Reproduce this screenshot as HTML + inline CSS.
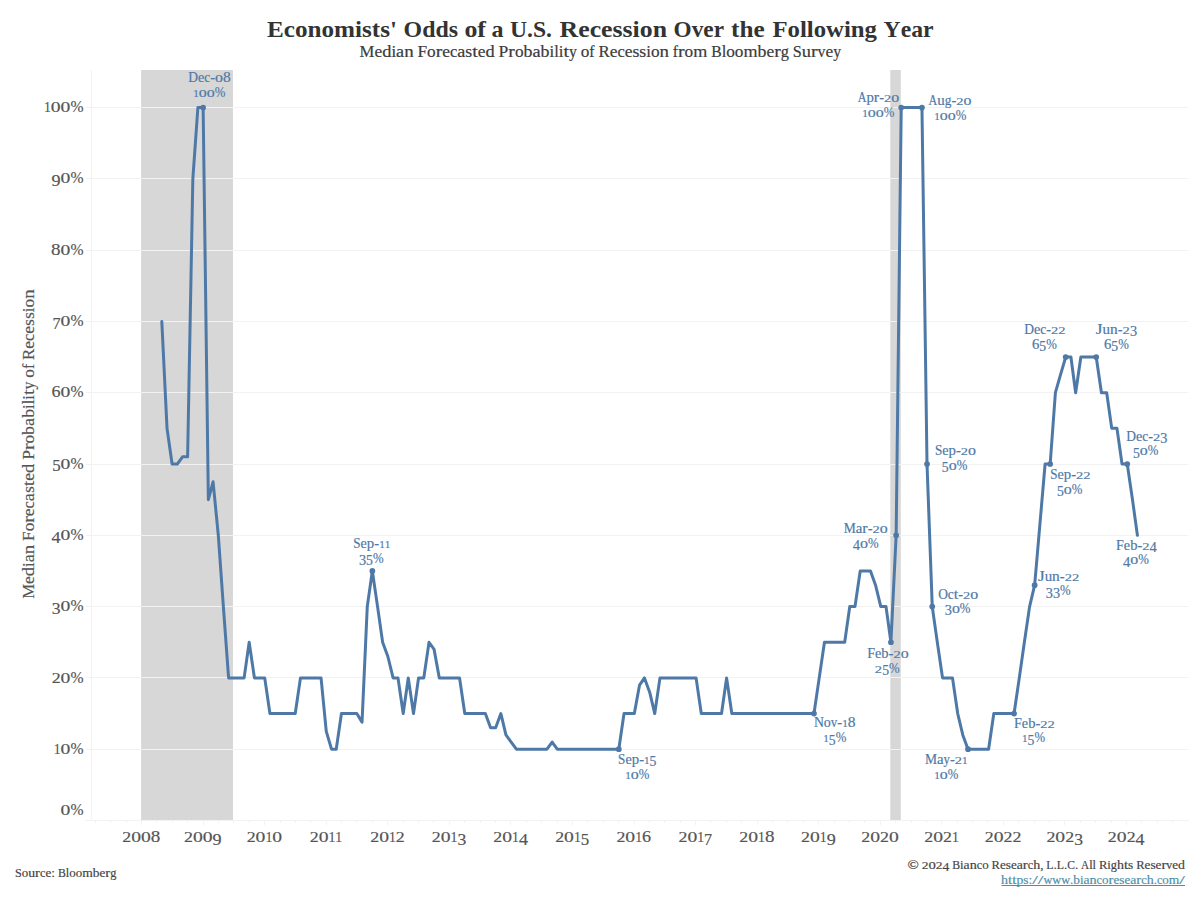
<!DOCTYPE html>
<html><head><meta charset="utf-8"><title>Economists' Odds of a U.S. Recession</title>
<style>
html,body{margin:0;padding:0;background:#fff;}
body{width:1200px;height:900px;overflow:hidden;font-family:"Liberation Serif",serif;}
svg{display:block;position:absolute;left:0;top:0;}
text{font-family:"Liberation Serif",serif;}
</style></head><body>
<svg width="1200" height="900" viewBox="0 0 1200 900">
<rect x="0" y="0" width="1200" height="900" fill="#ffffff"/>
<rect x="141.1" y="70" width="91.90" height="750" fill="#d7d7d7"/>
<rect x="890.3" y="70" width="10.5" height="750" fill="#d7d7d7"/>
<line x1="86" x2="1188" y1="749.5" y2="749.5" stroke="#f2f2f2" stroke-width="1"/>
<line x1="86" x2="1188" y1="677.5" y2="677.5" stroke="#f2f2f2" stroke-width="1"/>
<line x1="86" x2="1188" y1="606.5" y2="606.5" stroke="#f2f2f2" stroke-width="1"/>
<line x1="86" x2="1188" y1="535.5" y2="535.5" stroke="#f2f2f2" stroke-width="1"/>
<line x1="86" x2="1188" y1="464.5" y2="464.5" stroke="#f2f2f2" stroke-width="1"/>
<line x1="86" x2="1188" y1="392.5" y2="392.5" stroke="#f2f2f2" stroke-width="1"/>
<line x1="86" x2="1188" y1="321.5" y2="321.5" stroke="#f2f2f2" stroke-width="1"/>
<line x1="86" x2="1188" y1="250.5" y2="250.5" stroke="#f2f2f2" stroke-width="1"/>
<line x1="86" x2="1188" y1="178.5" y2="178.5" stroke="#f2f2f2" stroke-width="1"/>
<line x1="86" x2="1188" y1="107.5" y2="107.5" stroke="#f2f2f2" stroke-width="1"/>
<line x1="91.5" x2="91.5" y1="70" y2="820.5" stroke="#f2f2f2" stroke-width="1"/>
<line x1="85.5" x2="1189" y1="820.5" y2="820.5" stroke="#f2f2f2" stroke-width="1"/>
<line x1="95.5" x2="95.5" y1="821" y2="823" stroke="#f2f2f2" stroke-width="1"/>
<line x1="110.5" x2="110.5" y1="821" y2="823" stroke="#f2f2f2" stroke-width="1"/>
<line x1="126.5" x2="126.5" y1="821" y2="823" stroke="#f2f2f2" stroke-width="1"/>
<line x1="141.5" x2="141.5" y1="821" y2="825" stroke="#f2f2f2" stroke-width="1"/>
<line x1="156.5" x2="156.5" y1="821" y2="823" stroke="#f2f2f2" stroke-width="1"/>
<line x1="172.5" x2="172.5" y1="821" y2="823" stroke="#f2f2f2" stroke-width="1"/>
<line x1="187.5" x2="187.5" y1="821" y2="823" stroke="#f2f2f2" stroke-width="1"/>
<line x1="203.5" x2="203.5" y1="821" y2="825" stroke="#f2f2f2" stroke-width="1"/>
<line x1="218.5" x2="218.5" y1="821" y2="823" stroke="#f2f2f2" stroke-width="1"/>
<line x1="233.5" x2="233.5" y1="821" y2="823" stroke="#f2f2f2" stroke-width="1"/>
<line x1="249.5" x2="249.5" y1="821" y2="823" stroke="#f2f2f2" stroke-width="1"/>
<line x1="264.5" x2="264.5" y1="821" y2="825" stroke="#f2f2f2" stroke-width="1"/>
<line x1="280.5" x2="280.5" y1="821" y2="823" stroke="#f2f2f2" stroke-width="1"/>
<line x1="295.5" x2="295.5" y1="821" y2="823" stroke="#f2f2f2" stroke-width="1"/>
<line x1="310.5" x2="310.5" y1="821" y2="823" stroke="#f2f2f2" stroke-width="1"/>
<line x1="326.5" x2="326.5" y1="821" y2="825" stroke="#f2f2f2" stroke-width="1"/>
<line x1="341.5" x2="341.5" y1="821" y2="823" stroke="#f2f2f2" stroke-width="1"/>
<line x1="356.5" x2="356.5" y1="821" y2="823" stroke="#f2f2f2" stroke-width="1"/>
<line x1="372.5" x2="372.5" y1="821" y2="823" stroke="#f2f2f2" stroke-width="1"/>
<line x1="387.5" x2="387.5" y1="821" y2="825" stroke="#f2f2f2" stroke-width="1"/>
<line x1="403.5" x2="403.5" y1="821" y2="823" stroke="#f2f2f2" stroke-width="1"/>
<line x1="418.5" x2="418.5" y1="821" y2="823" stroke="#f2f2f2" stroke-width="1"/>
<line x1="433.5" x2="433.5" y1="821" y2="823" stroke="#f2f2f2" stroke-width="1"/>
<line x1="449.5" x2="449.5" y1="821" y2="825" stroke="#f2f2f2" stroke-width="1"/>
<line x1="464.5" x2="464.5" y1="821" y2="823" stroke="#f2f2f2" stroke-width="1"/>
<line x1="480.5" x2="480.5" y1="821" y2="823" stroke="#f2f2f2" stroke-width="1"/>
<line x1="495.5" x2="495.5" y1="821" y2="823" stroke="#f2f2f2" stroke-width="1"/>
<line x1="510.5" x2="510.5" y1="821" y2="825" stroke="#f2f2f2" stroke-width="1"/>
<line x1="526.5" x2="526.5" y1="821" y2="823" stroke="#f2f2f2" stroke-width="1"/>
<line x1="541.5" x2="541.5" y1="821" y2="823" stroke="#f2f2f2" stroke-width="1"/>
<line x1="557.5" x2="557.5" y1="821" y2="823" stroke="#f2f2f2" stroke-width="1"/>
<line x1="572.5" x2="572.5" y1="821" y2="825" stroke="#f2f2f2" stroke-width="1"/>
<line x1="587.5" x2="587.5" y1="821" y2="823" stroke="#f2f2f2" stroke-width="1"/>
<line x1="603.5" x2="603.5" y1="821" y2="823" stroke="#f2f2f2" stroke-width="1"/>
<line x1="618.5" x2="618.5" y1="821" y2="823" stroke="#f2f2f2" stroke-width="1"/>
<line x1="634.5" x2="634.5" y1="821" y2="825" stroke="#f2f2f2" stroke-width="1"/>
<line x1="649.5" x2="649.5" y1="821" y2="823" stroke="#f2f2f2" stroke-width="1"/>
<line x1="664.5" x2="664.5" y1="821" y2="823" stroke="#f2f2f2" stroke-width="1"/>
<line x1="680.5" x2="680.5" y1="821" y2="823" stroke="#f2f2f2" stroke-width="1"/>
<line x1="695.5" x2="695.5" y1="821" y2="825" stroke="#f2f2f2" stroke-width="1"/>
<line x1="710.5" x2="710.5" y1="821" y2="823" stroke="#f2f2f2" stroke-width="1"/>
<line x1="726.5" x2="726.5" y1="821" y2="823" stroke="#f2f2f2" stroke-width="1"/>
<line x1="741.5" x2="741.5" y1="821" y2="823" stroke="#f2f2f2" stroke-width="1"/>
<line x1="757.5" x2="757.5" y1="821" y2="825" stroke="#f2f2f2" stroke-width="1"/>
<line x1="772.5" x2="772.5" y1="821" y2="823" stroke="#f2f2f2" stroke-width="1"/>
<line x1="787.5" x2="787.5" y1="821" y2="823" stroke="#f2f2f2" stroke-width="1"/>
<line x1="803.5" x2="803.5" y1="821" y2="823" stroke="#f2f2f2" stroke-width="1"/>
<line x1="818.5" x2="818.5" y1="821" y2="825" stroke="#f2f2f2" stroke-width="1"/>
<line x1="834.5" x2="834.5" y1="821" y2="823" stroke="#f2f2f2" stroke-width="1"/>
<line x1="849.5" x2="849.5" y1="821" y2="823" stroke="#f2f2f2" stroke-width="1"/>
<line x1="864.5" x2="864.5" y1="821" y2="823" stroke="#f2f2f2" stroke-width="1"/>
<line x1="880.5" x2="880.5" y1="821" y2="825" stroke="#f2f2f2" stroke-width="1"/>
<line x1="895.5" x2="895.5" y1="821" y2="823" stroke="#f2f2f2" stroke-width="1"/>
<line x1="911.5" x2="911.5" y1="821" y2="823" stroke="#f2f2f2" stroke-width="1"/>
<line x1="926.5" x2="926.5" y1="821" y2="823" stroke="#f2f2f2" stroke-width="1"/>
<line x1="941.5" x2="941.5" y1="821" y2="825" stroke="#f2f2f2" stroke-width="1"/>
<line x1="957.5" x2="957.5" y1="821" y2="823" stroke="#f2f2f2" stroke-width="1"/>
<line x1="972.5" x2="972.5" y1="821" y2="823" stroke="#f2f2f2" stroke-width="1"/>
<line x1="987.5" x2="987.5" y1="821" y2="823" stroke="#f2f2f2" stroke-width="1"/>
<line x1="1003.5" x2="1003.5" y1="821" y2="825" stroke="#f2f2f2" stroke-width="1"/>
<line x1="1018.5" x2="1018.5" y1="821" y2="823" stroke="#f2f2f2" stroke-width="1"/>
<line x1="1034.5" x2="1034.5" y1="821" y2="823" stroke="#f2f2f2" stroke-width="1"/>
<line x1="1049.5" x2="1049.5" y1="821" y2="823" stroke="#f2f2f2" stroke-width="1"/>
<line x1="1064.5" x2="1064.5" y1="821" y2="825" stroke="#f2f2f2" stroke-width="1"/>
<line x1="1080.5" x2="1080.5" y1="821" y2="823" stroke="#f2f2f2" stroke-width="1"/>
<line x1="1095.5" x2="1095.5" y1="821" y2="823" stroke="#f2f2f2" stroke-width="1"/>
<line x1="1111.5" x2="1111.5" y1="821" y2="823" stroke="#f2f2f2" stroke-width="1"/>
<line x1="1126.5" x2="1126.5" y1="821" y2="825" stroke="#f2f2f2" stroke-width="1"/>
<line x1="1141.5" x2="1141.5" y1="821" y2="823" stroke="#f2f2f2" stroke-width="1"/>
<line x1="1157.5" x2="1157.5" y1="821" y2="823" stroke="#f2f2f2" stroke-width="1"/>
<line x1="1172.5" x2="1172.5" y1="821" y2="823" stroke="#f2f2f2" stroke-width="1"/>
<g aria-label="0%" font-size="16.77" fill="#555555" stroke="#555555" stroke-width="0.18"><text transform="translate(60.60,814.60) scale(1.172,0.810)">0</text><text transform="translate(70.43,814.60) scale(0.936,1.000)">%</text></g>
<g aria-label="10%" font-size="16.77" fill="#555555" stroke="#555555" stroke-width="0.18"><text transform="translate(53.74,753.80) scale(0.819,0.810)">1</text><text transform="translate(60.60,753.80) scale(1.172,0.810)">0</text><text transform="translate(70.43,753.80) scale(0.936,1.000)">%</text></g>
<g aria-label="20%" font-size="16.77" fill="#555555" stroke="#555555" stroke-width="0.18"><text transform="translate(51.66,682.50) scale(1.067,0.810)">2</text><text transform="translate(60.60,682.50) scale(1.172,0.810)">0</text><text transform="translate(70.43,682.50) scale(0.936,1.000)">%</text></g>
<g aria-label="30%" font-size="16.77" fill="#555555" stroke="#555555" stroke-width="0.18"><text transform="translate(51.79,614.00) scale(1.052,1.050)">3</text><text transform="translate(60.60,611.20) scale(1.172,0.810)">0</text><text transform="translate(70.43,611.20) scale(0.936,1.000)">%</text></g>
<g aria-label="40%" font-size="16.77" fill="#555555" stroke="#555555" stroke-width="0.18"><text transform="translate(51.56,542.70) scale(1.078,1.050)">4</text><text transform="translate(60.60,539.90) scale(1.172,0.810)">0</text><text transform="translate(70.43,539.90) scale(0.936,1.000)">%</text></g>
<g aria-label="50%" font-size="16.77" fill="#555555" stroke="#555555" stroke-width="0.18"><text transform="translate(52.16,471.40) scale(1.008,1.050)">5</text><text transform="translate(60.60,468.60) scale(1.172,0.810)">0</text><text transform="translate(70.43,468.60) scale(0.936,1.000)">%</text></g>
<g aria-label="60%" font-size="16.77" fill="#555555" stroke="#555555" stroke-width="0.18"><text transform="translate(51.55,397.30) scale(1.080,1.020)">6</text><text transform="translate(60.60,397.30) scale(1.172,0.810)">0</text><text transform="translate(70.43,397.30) scale(0.936,1.000)">%</text></g>
<g aria-label="70%" font-size="16.77" fill="#555555" stroke="#555555" stroke-width="0.18"><text transform="translate(52.57,328.80) scale(0.958,1.050)">7</text><text transform="translate(60.60,326.00) scale(1.172,0.810)">0</text><text transform="translate(70.43,326.00) scale(0.936,1.000)">%</text></g>
<g aria-label="80%" font-size="16.77" fill="#555555" stroke="#555555" stroke-width="0.18"><text transform="translate(51.07,254.70) scale(1.137,1.020)">8</text><text transform="translate(60.60,254.70) scale(1.172,0.810)">0</text><text transform="translate(70.43,254.70) scale(0.936,1.000)">%</text></g>
<g aria-label="90%" font-size="16.77" fill="#555555" stroke="#555555" stroke-width="0.18"><text transform="translate(51.55,186.20) scale(1.080,1.050)">9</text><text transform="translate(60.60,183.40) scale(1.172,0.810)">0</text><text transform="translate(70.43,183.40) scale(0.936,1.000)">%</text></g>
<g aria-label="100%" font-size="16.77" fill="#555555" stroke="#555555" stroke-width="0.18"><text transform="translate(43.92,112.10) scale(0.819,0.810)">1</text><text transform="translate(50.78,112.10) scale(1.172,0.810)">0</text><text transform="translate(60.60,112.10) scale(1.172,0.810)">0</text><text transform="translate(70.43,112.10) scale(0.936,1.000)">%</text></g>
<g aria-label="2008" font-size="16.77" fill="#555555" stroke="#555555" stroke-width="0.18"><text transform="translate(122.19,841.80) scale(1.067,0.810)">2</text><text transform="translate(131.13,841.80) scale(1.172,0.810)">0</text><text transform="translate(140.95,841.80) scale(1.172,0.810)">0</text><text transform="translate(150.78,841.80) scale(1.137,1.020)">8</text></g>
<g aria-label="2009" font-size="16.77" fill="#555555" stroke="#555555" stroke-width="0.18"><text transform="translate(183.99,841.80) scale(1.067,0.810)">2</text><text transform="translate(192.93,841.80) scale(1.172,0.810)">0</text><text transform="translate(202.76,841.80) scale(1.172,0.810)">0</text><text transform="translate(212.58,844.60) scale(1.080,1.050)">9</text></g>
<g aria-label="2010" font-size="16.77" fill="#555555" stroke="#555555" stroke-width="0.18"><text transform="translate(246.65,841.80) scale(1.067,0.810)">2</text><text transform="translate(255.59,841.80) scale(1.172,0.810)">0</text><text transform="translate(265.41,841.80) scale(0.819,0.810)">1</text><text transform="translate(272.28,841.80) scale(1.172,0.810)">0</text></g>
<g aria-label="2011" font-size="16.77" fill="#555555" stroke="#555555" stroke-width="0.18"><text transform="translate(309.69,841.80) scale(1.067,0.810)">2</text><text transform="translate(318.63,841.80) scale(1.172,0.810)">0</text><text transform="translate(328.46,841.80) scale(0.819,0.810)">1</text><text transform="translate(335.32,841.80) scale(0.819,0.810)">1</text></g>
<g aria-label="2012" font-size="16.77" fill="#555555" stroke="#555555" stroke-width="0.18"><text transform="translate(370.21,841.80) scale(1.067,0.810)">2</text><text transform="translate(379.16,841.80) scale(1.172,0.810)">0</text><text transform="translate(388.98,841.80) scale(0.819,0.810)">1</text><text transform="translate(395.84,841.80) scale(1.067,0.810)">2</text></g>
<g aria-label="2013" font-size="16.77" fill="#555555" stroke="#555555" stroke-width="0.18"><text transform="translate(431.84,841.80) scale(1.067,0.810)">2</text><text transform="translate(440.78,841.80) scale(1.172,0.810)">0</text><text transform="translate(450.61,841.80) scale(0.819,0.810)">1</text><text transform="translate(457.47,844.60) scale(1.052,1.050)">3</text></g>
<g aria-label="2014" font-size="16.77" fill="#555555" stroke="#555555" stroke-width="0.18"><text transform="translate(493.29,841.80) scale(1.067,0.810)">2</text><text transform="translate(502.23,841.80) scale(1.172,0.810)">0</text><text transform="translate(512.06,841.80) scale(0.819,0.810)">1</text><text transform="translate(518.92,844.60) scale(1.078,1.050)">4</text></g>
<g aria-label="2015" font-size="16.77" fill="#555555" stroke="#555555" stroke-width="0.18"><text transform="translate(555.15,841.80) scale(1.067,0.810)">2</text><text transform="translate(564.09,841.80) scale(1.172,0.810)">0</text><text transform="translate(573.92,841.80) scale(0.819,0.810)">1</text><text transform="translate(580.78,844.60) scale(1.008,1.050)">5</text></g>
<g aria-label="2016" font-size="16.77" fill="#555555" stroke="#555555" stroke-width="0.18"><text transform="translate(616.41,841.80) scale(1.067,0.810)">2</text><text transform="translate(625.35,841.80) scale(1.172,0.810)">0</text><text transform="translate(635.17,841.80) scale(0.819,0.810)">1</text><text transform="translate(642.04,841.80) scale(1.080,1.020)">6</text></g>
<g aria-label="2017" font-size="16.77" fill="#555555" stroke="#555555" stroke-width="0.18"><text transform="translate(678.48,841.80) scale(1.067,0.810)">2</text><text transform="translate(687.42,841.80) scale(1.172,0.810)">0</text><text transform="translate(697.25,841.80) scale(0.819,0.810)">1</text><text transform="translate(704.11,844.60) scale(0.958,1.050)">7</text></g>
<g aria-label="2018" font-size="16.77" fill="#555555" stroke="#555555" stroke-width="0.18"><text transform="translate(739.29,841.80) scale(1.067,0.810)">2</text><text transform="translate(748.24,841.80) scale(1.172,0.810)">0</text><text transform="translate(758.06,841.80) scale(0.819,0.810)">1</text><text transform="translate(764.92,841.80) scale(1.137,1.020)">8</text></g>
<g aria-label="2019" font-size="16.77" fill="#555555" stroke="#555555" stroke-width="0.18"><text transform="translate(801.09,841.80) scale(1.067,0.810)">2</text><text transform="translate(810.04,841.80) scale(1.172,0.810)">0</text><text transform="translate(819.86,841.80) scale(0.819,0.810)">1</text><text transform="translate(826.73,844.60) scale(1.080,1.050)">9</text></g>
<g aria-label="2020" font-size="16.77" fill="#555555" stroke="#555555" stroke-width="0.18"><text transform="translate(861.23,841.80) scale(1.067,0.810)">2</text><text transform="translate(870.18,841.80) scale(1.172,0.810)">0</text><text transform="translate(880.00,841.80) scale(1.067,0.810)">2</text><text transform="translate(888.94,841.80) scale(1.172,0.810)">0</text></g>
<g aria-label="2021" font-size="16.77" fill="#555555" stroke="#555555" stroke-width="0.18"><text transform="translate(924.27,841.80) scale(1.067,0.810)">2</text><text transform="translate(933.22,841.80) scale(1.172,0.810)">0</text><text transform="translate(943.04,841.80) scale(1.067,0.810)">2</text><text transform="translate(951.99,841.80) scale(0.819,0.810)">1</text></g>
<g aria-label="2022" font-size="16.77" fill="#555555" stroke="#555555" stroke-width="0.18"><text transform="translate(984.80,841.80) scale(1.067,0.810)">2</text><text transform="translate(993.74,841.80) scale(1.172,0.810)">0</text><text transform="translate(1003.56,841.80) scale(1.067,0.810)">2</text><text transform="translate(1012.51,841.80) scale(1.067,0.810)">2</text></g>
<g aria-label="2023" font-size="16.77" fill="#555555" stroke="#555555" stroke-width="0.18"><text transform="translate(1046.42,841.80) scale(1.067,0.810)">2</text><text transform="translate(1055.37,841.80) scale(1.172,0.810)">0</text><text transform="translate(1065.19,841.80) scale(1.067,0.810)">2</text><text transform="translate(1074.14,844.60) scale(1.052,1.050)">3</text></g>
<g aria-label="2024" font-size="16.77" fill="#555555" stroke="#555555" stroke-width="0.18"><text transform="translate(1107.87,841.80) scale(1.067,0.810)">2</text><text transform="translate(1116.82,841.80) scale(1.172,0.810)">0</text><text transform="translate(1126.64,841.80) scale(1.067,0.810)">2</text><text transform="translate(1135.59,844.60) scale(1.078,1.050)">4</text></g>
<g transform="translate(34.2,598.8) rotate(-90)"><g aria-label="Median Forecasted Probability of Recession" font-size="16.77" fill="#555555" stroke="#555555" stroke-width="0.18"><text transform="translate(0.00,0.00) scale(0.996,1.000)">M</text><text transform="translate(14.85,0.00) scale(1.040,1.000)">e</text><text transform="translate(22.59,0.00) scale(1.097,1.000)">d</text><text transform="translate(31.79,0.00) scale(1.006,1.000)">i</text><text transform="translate(36.48,0.00) scale(1.083,1.000)">a</text><text transform="translate(44.54,0.00) scale(1.128,1.000)">n</text><text transform="translate(57.86,0.00) scale(1.030,1.000)">F</text><text transform="translate(67.46,0.00) scale(1.029,1.000)">o</text><text transform="translate(76.08,0.00) scale(1.175,1.000)">r</text><text transform="translate(82.64,0.00) scale(1.040,1.000)">e</text><text transform="translate(90.38,0.00) scale(0.976,1.000)">c</text><text transform="translate(97.65,0.00) scale(1.083,1.000)">a</text><text transform="translate(105.71,0.00) scale(1.060,1.000)">s</text><text transform="translate(112.62,0.00) scale(1.188,1.000)">t</text><text transform="translate(118.16,0.00) scale(1.040,1.000)">e</text><text transform="translate(125.90,0.00) scale(1.097,1.000)">d</text><text transform="translate(138.96,0.00) scale(1.047,1.000)">P</text><text transform="translate(148.72,0.00) scale(1.175,1.000)">r</text><text transform="translate(155.28,0.00) scale(1.029,1.000)">o</text><text transform="translate(163.90,0.00) scale(1.069,1.000)">b</text><text transform="translate(172.86,0.00) scale(1.083,1.000)">a</text><text transform="translate(180.93,0.00) scale(1.069,1.000)">b</text><text transform="translate(189.89,0.00) scale(1.006,1.000)">i</text><text transform="translate(194.58,0.00) scale(0.985,1.000)">l</text><text transform="translate(199.17,0.00) scale(1.006,1.000)">i</text><text transform="translate(203.86,0.00) scale(1.188,1.000)">t</text><text transform="translate(209.39,0.00) scale(0.941,1.000)">y</text><text transform="translate(221.14,0.00) scale(1.029,1.000)">o</text><text transform="translate(229.76,0.00) scale(0.931,1.000)">f</text><text transform="translate(238.82,0.00) scale(1.004,1.000)">R</text><text transform="translate(250.05,0.00) scale(1.040,1.000)">e</text><text transform="translate(257.79,0.00) scale(0.976,1.000)">c</text><text transform="translate(265.06,0.00) scale(1.040,1.000)">e</text><text transform="translate(272.80,0.00) scale(1.060,1.000)">s</text><text transform="translate(279.71,0.00) scale(1.060,1.000)">s</text><text transform="translate(286.62,0.00) scale(1.006,1.000)">i</text><text transform="translate(291.31,0.00) scale(1.029,1.000)">o</text><text transform="translate(299.94,0.00) scale(1.128,1.000)">n</text></g>
</g>
<g font-size="22.5" font-weight="bold" fill="#333333"><text x="267" y="37" textLength="16.78" lengthAdjust="spacingAndGlyphs">E</text><text transform="translate(283.78,37) scale(1,1.045)" textLength="113.22" lengthAdjust="spacingAndGlyphs">conomists'</text><text x="403.6" y="37" textLength="18.57" lengthAdjust="spacingAndGlyphs">O</text><text transform="translate(422.17,37) scale(1,1.045)" textLength="35.83" lengthAdjust="spacingAndGlyphs">dds</text><text transform="translate(464.4,37) scale(1,1.045)" textLength="21.60" lengthAdjust="spacingAndGlyphs">of</text><text transform="translate(491.6,37) scale(1,1.045)" textLength="12.00" lengthAdjust="spacingAndGlyphs">a</text><text x="510" y="37" textLength="42.0" lengthAdjust="spacingAndGlyphs">U.S.</text><text x="559.6" y="37" textLength="18.61" lengthAdjust="spacingAndGlyphs">R</text><text transform="translate(578.21,37) scale(1,1.045)" textLength="88.79" lengthAdjust="spacingAndGlyphs">ecession</text><text x="673.6" y="37" textLength="18.10" lengthAdjust="spacingAndGlyphs">O</text><text transform="translate(691.70,37) scale(1,1.045)" textLength="32.30" lengthAdjust="spacingAndGlyphs">ver</text><text transform="translate(731,37) scale(1,1.045)" textLength="33.60" lengthAdjust="spacingAndGlyphs">the</text><text x="772.4" y="37" textLength="15.13" lengthAdjust="spacingAndGlyphs">F</text><text transform="translate(787.53,37) scale(1,1.045)" textLength="89.47" lengthAdjust="spacingAndGlyphs">ollowing</text><text x="883.6" y="37" textLength="17.11" lengthAdjust="spacingAndGlyphs">Y</text><text transform="translate(900.71,37) scale(1,1.045)" textLength="32.89" lengthAdjust="spacingAndGlyphs">ear</text></g>
<g aria-label="Median Forecasted Probability of Recession from Bloomberg Survey" font-size="16.77" fill="#3c3c3c" stroke="#3c3c3c" stroke-width="0.2"><text transform="translate(359.60,56.60) scale(0.996,1.000)">M</text><text transform="translate(374.45,56.60) scale(1.040,1.000)">e</text><text transform="translate(382.19,56.60) scale(1.097,1.000)">d</text><text transform="translate(391.39,56.60) scale(1.006,1.000)">i</text><text transform="translate(396.08,56.60) scale(1.083,1.000)">a</text><text transform="translate(404.14,56.60) scale(1.128,1.000)">n</text><text transform="translate(417.46,56.60) scale(1.030,1.000)">F</text><text transform="translate(427.06,56.60) scale(1.029,1.000)">o</text><text transform="translate(435.68,56.60) scale(1.175,1.000)">r</text><text transform="translate(442.24,56.60) scale(1.040,1.000)">e</text><text transform="translate(449.98,56.60) scale(0.976,1.000)">c</text><text transform="translate(457.25,56.60) scale(1.083,1.000)">a</text><text transform="translate(465.31,56.60) scale(1.060,1.000)">s</text><text transform="translate(472.22,56.60) scale(1.188,1.000)">t</text><text transform="translate(477.76,56.60) scale(1.040,1.000)">e</text><text transform="translate(485.50,56.60) scale(1.097,1.000)">d</text><text transform="translate(498.56,56.60) scale(1.047,1.000)">P</text><text transform="translate(508.32,56.60) scale(1.175,1.000)">r</text><text transform="translate(514.88,56.60) scale(1.029,1.000)">o</text><text transform="translate(523.50,56.60) scale(1.069,1.000)">b</text><text transform="translate(532.46,56.60) scale(1.083,1.000)">a</text><text transform="translate(540.53,56.60) scale(1.069,1.000)">b</text><text transform="translate(549.49,56.60) scale(1.006,1.000)">i</text><text transform="translate(554.18,56.60) scale(0.985,1.000)">l</text><text transform="translate(558.77,56.60) scale(1.006,1.000)">i</text><text transform="translate(563.46,56.60) scale(1.188,1.000)">t</text><text transform="translate(568.99,56.60) scale(0.941,1.000)">y</text><text transform="translate(580.74,56.60) scale(1.029,1.000)">o</text><text transform="translate(589.36,56.60) scale(0.931,1.000)">f</text><text transform="translate(598.42,56.60) scale(1.004,1.000)">R</text><text transform="translate(609.65,56.60) scale(1.040,1.000)">e</text><text transform="translate(617.39,56.60) scale(0.976,1.000)">c</text><text transform="translate(624.66,56.60) scale(1.040,1.000)">e</text><text transform="translate(632.40,56.60) scale(1.060,1.000)">s</text><text transform="translate(639.31,56.60) scale(1.060,1.000)">s</text><text transform="translate(646.22,56.60) scale(1.006,1.000)">i</text><text transform="translate(650.91,56.60) scale(1.029,1.000)">o</text><text transform="translate(659.54,56.60) scale(1.128,1.000)">n</text><text transform="translate(672.85,56.60) scale(0.931,1.000)">f</text><text transform="translate(678.05,56.60) scale(1.175,1.000)">r</text><text transform="translate(684.61,56.60) scale(1.029,1.000)">o</text><text transform="translate(693.23,56.60) scale(1.079,1.000)">m</text><text transform="translate(711.17,56.60) scale(0.936,1.000)">B</text><text transform="translate(721.63,56.60) scale(0.985,1.000)">l</text><text transform="translate(726.22,56.60) scale(1.029,1.000)">o</text><text transform="translate(734.85,56.60) scale(1.029,1.000)">o</text><text transform="translate(743.47,56.60) scale(1.079,1.000)">m</text><text transform="translate(757.55,56.60) scale(1.069,1.000)">b</text><text transform="translate(766.51,56.60) scale(1.040,1.000)">e</text><text transform="translate(774.26,56.60) scale(1.175,1.000)">r</text><text transform="translate(780.82,56.60) scale(0.973,1.000)">g</text><text transform="translate(792.83,56.60) scale(0.963,1.000)">S</text><text transform="translate(801.81,56.60) scale(1.099,1.000)">u</text><text transform="translate(811.02,56.60) scale(1.175,1.000)">r</text><text transform="translate(817.58,56.60) scale(0.948,1.000)">v</text><text transform="translate(825.54,56.60) scale(1.040,1.000)">e</text><text transform="translate(833.28,56.60) scale(0.941,1.000)">y</text></g>
<path d="M161.80,321.40 L167.03,428.35 L172.09,464.00 L177.32,464.00 L182.55,456.87 L187.61,456.87 L192.84,178.80 L197.90,107.50 L203.13,107.50 L208.36,499.65 L213.08,481.82 L218.31,535.30 L223.37,606.60 L228.60,677.90 L233.66,677.90 L238.89,677.90 L244.12,677.90 L249.18,642.25 L254.41,677.90 L259.48,677.90 L264.71,677.90 L269.93,713.55 L274.66,713.55 L279.89,713.55 L284.95,713.55 L290.18,713.55 L295.24,713.55 L300.47,677.90 L305.70,677.90 L310.76,677.90 L315.99,677.90 L321.05,677.90 L326.28,731.38 L331.51,749.20 L336.23,749.20 L341.46,713.55 L346.52,713.55 L351.75,713.55 L356.81,713.55 L362.04,722.11 L367.27,606.60 L372.34,570.95 L377.56,606.60 L382.63,642.25 L387.86,656.51 L393.09,677.90 L397.98,677.90 L403.21,713.55 L408.27,677.90 L413.50,713.55 L418.56,677.90 L423.79,677.90 L429.02,642.25 L434.08,649.38 L439.31,677.90 L444.37,677.90 L449.60,677.90 L454.83,677.90 L459.55,677.90 L464.78,713.55 L469.84,713.55 L475.07,713.55 L480.13,713.55 L485.36,713.55 L490.59,727.81 L495.65,727.81 L500.88,713.55 L505.94,734.94 L511.17,742.07 L516.40,749.20 L521.13,749.20 L526.36,749.20 L531.42,749.20 L536.65,749.20 L541.71,749.20 L546.94,749.20 L552.17,742.07 L557.23,749.20 L562.46,749.20 L567.52,749.20 L572.75,749.20 L577.98,749.20 L582.70,749.20 L587.93,749.20 L592.99,749.20 L598.22,749.20 L603.28,749.20 L608.51,749.20 L613.74,749.20 L618.80,749.20 L624.03,713.55 L629.10,713.55 L634.32,713.55 L639.55,685.03 L644.45,677.90 L649.68,692.16 L654.74,713.55 L659.97,677.90 L665.03,677.90 L670.26,677.90 L675.49,677.90 L680.55,677.90 L685.78,677.90 L690.84,677.90 L696.07,677.90 L701.30,713.55 L706.02,713.55 L711.25,713.55 L716.31,713.55 L721.54,713.55 L726.60,677.90 L731.83,713.55 L737.06,713.55 L742.12,713.55 L747.35,713.55 L752.41,713.55 L757.64,713.55 L762.87,713.55 L767.60,713.55 L772.83,713.55 L777.89,713.55 L783.12,713.55 L788.18,713.55 L793.41,713.55 L798.64,713.55 L803.70,713.55 L808.93,713.55 L813.99,713.55 L819.22,677.90 L824.45,642.25 L829.17,642.25 L834.40,642.25 L839.46,642.25 L844.69,642.25 L849.75,606.60 L854.98,606.60 L860.21,570.95 L865.27,570.95 L870.50,570.95 L875.56,585.21 L880.79,606.60 L886.02,606.60 L890.92,642.25 L896.15,535.30 L901.21,107.50 L906.44,107.50 L911.50,107.50 L916.73,107.50 L921.96,107.50 L927.02,464.00 L932.25,606.60 L937.31,642.25 L942.54,677.90 L947.77,677.90 L952.49,677.90 L957.72,713.55 L962.78,734.94 L968.01,749.20 L973.07,749.20 L978.30,749.20 L983.53,749.20 L988.59,749.20 L993.82,713.55 L998.88,713.55 L1004.11,713.55 L1009.34,713.55 L1014.07,713.55 L1019.30,677.90 L1024.36,642.25 L1029.59,606.60 L1034.65,585.21 L1039.88,524.61 L1045.11,464.00 L1050.17,464.00 L1055.40,392.70 L1060.46,374.88 L1065.69,357.05 L1070.92,357.05 L1075.64,392.70 L1080.87,357.05 L1085.93,357.05 L1091.16,357.05 L1096.22,357.05 L1101.45,392.70 L1106.68,392.70 L1111.74,428.35 L1116.97,428.35 L1122.03,464.00 L1127.26,464.00 L1132.49,499.65 L1137.39,535.30" fill="none" stroke="#4e79a7" stroke-width="3" stroke-linejoin="round" stroke-linecap="round"/>
<circle cx="203.13" cy="107.50" r="2.85" fill="#4e79a7"/>
<circle cx="372.34" cy="570.95" r="2.85" fill="#4e79a7"/>
<circle cx="618.80" cy="749.20" r="2.85" fill="#4e79a7"/>
<circle cx="813.99" cy="713.55" r="2.85" fill="#4e79a7"/>
<circle cx="890.92" cy="642.25" r="2.85" fill="#4e79a7"/>
<circle cx="896.15" cy="535.30" r="2.85" fill="#4e79a7"/>
<circle cx="901.21" cy="107.50" r="2.85" fill="#4e79a7"/>
<circle cx="921.96" cy="107.50" r="2.85" fill="#4e79a7"/>
<circle cx="927.02" cy="464.00" r="2.85" fill="#4e79a7"/>
<circle cx="932.25" cy="606.60" r="2.85" fill="#4e79a7"/>
<circle cx="968.01" cy="749.20" r="2.85" fill="#4e79a7"/>
<circle cx="1014.07" cy="713.55" r="2.85" fill="#4e79a7"/>
<circle cx="1034.65" cy="585.21" r="2.85" fill="#4e79a7"/>
<circle cx="1050.17" cy="464.00" r="2.85" fill="#4e79a7"/>
<circle cx="1065.69" cy="357.05" r="2.85" fill="#4e79a7"/>
<circle cx="1096.22" cy="357.05" r="2.85" fill="#4e79a7"/>
<circle cx="1127.26" cy="464.00" r="2.85" fill="#4e79a7"/>
<g aria-label="Dec-08" font-size="13.62" fill="#4e79a7" stroke="#4e79a7" stroke-width="0.18"><text transform="translate(188.28,81.80) scale(0.991,1.000)">D</text><text transform="translate(198.03,81.80) scale(1.040,1.000)">e</text><text transform="translate(204.32,81.80) scale(0.976,1.000)">c</text><text transform="translate(210.23,81.80) scale(1.072,1.000)">-</text><text transform="translate(215.09,81.80) scale(1.172,0.810)">0</text><text transform="translate(223.07,81.80) scale(1.137,1.020)">8</text></g>
<g aria-label="100%" font-size="13.62" fill="#4e79a7" stroke="#4e79a7" stroke-width="0.18"><text transform="translate(193.27,96.90) scale(0.819,0.810)">1</text><text transform="translate(198.85,96.90) scale(1.172,0.810)">0</text><text transform="translate(206.83,96.90) scale(1.172,0.810)">0</text><text transform="translate(214.81,96.90) scale(0.936,1.000)">%</text></g>
<g aria-label="Sep-11" font-size="13.62" fill="#4e79a7" stroke="#4e79a7" stroke-width="0.18"><text transform="translate(353.29,547.90) scale(0.963,1.000)">S</text><text transform="translate(360.58,547.90) scale(1.040,1.000)">e</text><text transform="translate(366.87,547.90) scale(1.090,1.000)">p</text><text transform="translate(374.30,547.90) scale(1.072,1.000)">-</text><text transform="translate(379.16,547.90) scale(0.819,0.810)">1</text><text transform="translate(384.74,547.90) scale(0.819,0.810)">1</text></g>
<g aria-label="35%" font-size="13.62" fill="#4e79a7" stroke="#4e79a7" stroke-width="0.18"><text transform="translate(358.93,565.17) scale(1.052,1.050)">3</text><text transform="translate(366.09,565.17) scale(1.008,1.050)">5</text><text transform="translate(372.95,562.90) scale(0.936,1.000)">%</text></g>
<g aria-label="Sep-15" font-size="13.62" fill="#4e79a7" stroke="#4e79a7" stroke-width="0.18"><text transform="translate(618.12,763.75) scale(0.963,1.000)">S</text><text transform="translate(625.41,763.75) scale(1.040,1.000)">e</text><text transform="translate(631.70,763.75) scale(1.090,1.000)">p</text><text transform="translate(639.13,763.75) scale(1.072,1.000)">-</text><text transform="translate(643.99,763.75) scale(0.819,0.810)">1</text><text transform="translate(649.57,766.02) scale(1.008,1.050)">5</text></g>
<g aria-label="10%" font-size="13.62" fill="#4e79a7" stroke="#4e79a7" stroke-width="0.18"><text transform="translate(625.13,778.75) scale(0.819,0.810)">1</text><text transform="translate(630.71,778.75) scale(1.172,0.810)">0</text><text transform="translate(638.69,778.75) scale(0.936,1.000)">%</text></g>
<g aria-label="Nov-18" font-size="13.62" fill="#4e79a7" stroke="#4e79a7" stroke-width="0.18"><text transform="translate(813.89,727.40) scale(1.014,1.000)">N</text><text transform="translate(823.86,727.40) scale(1.029,1.000)">o</text><text transform="translate(830.87,727.40) scale(0.948,1.000)">v</text><text transform="translate(837.33,727.40) scale(1.072,1.000)">-</text><text transform="translate(842.19,727.40) scale(0.819,0.810)">1</text><text transform="translate(847.76,727.40) scale(1.137,1.020)">8</text></g>
<g aria-label="15%" font-size="13.62" fill="#4e79a7" stroke="#4e79a7" stroke-width="0.18"><text transform="translate(823.27,742.40) scale(0.819,0.810)">1</text><text transform="translate(828.85,744.67) scale(1.008,1.050)">5</text><text transform="translate(835.71,742.40) scale(0.936,1.000)">%</text></g>
<g aria-label="Feb-20" font-size="13.62" fill="#4e79a7" stroke="#4e79a7" stroke-width="0.18"><text transform="translate(867.16,657.70) scale(1.030,1.000)">F</text><text transform="translate(874.96,657.70) scale(1.040,1.000)">e</text><text transform="translate(881.25,657.70) scale(1.069,1.000)">b</text><text transform="translate(888.53,657.70) scale(1.072,1.000)">-</text><text transform="translate(893.39,657.70) scale(1.067,0.810)">2</text><text transform="translate(900.66,657.70) scale(1.172,0.810)">0</text></g>
<g aria-label="25%" font-size="13.62" fill="#4e79a7" stroke="#4e79a7" stroke-width="0.18"><text transform="translate(874.87,673.00) scale(1.067,0.810)">2</text><text transform="translate(882.14,675.27) scale(1.008,1.050)">5</text><text transform="translate(889.01,673.00) scale(0.936,1.000)">%</text></g>
<g aria-label="Mar-20" font-size="13.62" fill="#4e79a7" stroke="#4e79a7" stroke-width="0.18"><text transform="translate(843.72,532.70) scale(0.996,1.000)">M</text><text transform="translate(855.79,532.70) scale(1.083,1.000)">a</text><text transform="translate(862.34,532.70) scale(1.175,1.000)">r</text><text transform="translate(867.67,532.70) scale(1.072,1.000)">-</text><text transform="translate(872.53,532.70) scale(1.067,0.810)">2</text><text transform="translate(879.80,532.70) scale(1.172,0.810)">0</text></g>
<g aria-label="40%" font-size="13.62" fill="#4e79a7" stroke="#4e79a7" stroke-width="0.18"><text transform="translate(852.78,549.77) scale(1.078,1.050)">4</text><text transform="translate(860.12,547.50) scale(1.172,0.810)">0</text><text transform="translate(868.10,547.50) scale(0.936,1.000)">%</text></g>
<g aria-label="Apr-20" font-size="13.62" fill="#4e79a7" stroke="#4e79a7" stroke-width="0.18"><text transform="translate(857.66,101.80) scale(0.887,1.000)">A</text><text transform="translate(866.38,101.80) scale(1.090,1.000)">p</text><text transform="translate(873.80,101.80) scale(1.175,1.000)">r</text><text transform="translate(879.13,101.80) scale(1.072,1.000)">-</text><text transform="translate(883.99,101.80) scale(1.067,0.810)">2</text><text transform="translate(891.26,101.80) scale(1.172,0.810)">0</text></g>
<g aria-label="100%" font-size="13.62" fill="#4e79a7" stroke="#4e79a7" stroke-width="0.18"><text transform="translate(862.17,116.60) scale(0.819,0.810)">1</text><text transform="translate(867.75,116.60) scale(1.172,0.810)">0</text><text transform="translate(875.73,116.60) scale(1.172,0.810)">0</text><text transform="translate(883.71,116.60) scale(0.936,1.000)">%</text></g>
<g aria-label="Aug-20" font-size="13.62" fill="#4e79a7" stroke="#4e79a7" stroke-width="0.18"><text transform="translate(928.62,104.80) scale(0.887,1.000)">A</text><text transform="translate(937.35,104.80) scale(1.099,1.000)">u</text><text transform="translate(944.84,104.80) scale(0.973,1.000)">g</text><text transform="translate(951.47,104.80) scale(1.072,1.000)">-</text><text transform="translate(956.33,104.80) scale(1.067,0.810)">2</text><text transform="translate(963.59,104.80) scale(1.172,0.810)">0</text></g>
<g aria-label="100%" font-size="13.62" fill="#4e79a7" stroke="#4e79a7" stroke-width="0.18"><text transform="translate(934.17,119.50) scale(0.819,0.810)">1</text><text transform="translate(939.75,119.50) scale(1.172,0.810)">0</text><text transform="translate(947.73,119.50) scale(1.172,0.810)">0</text><text transform="translate(955.71,119.50) scale(0.936,1.000)">%</text></g>
<g aria-label="Sep-20" font-size="13.62" fill="#4e79a7" stroke="#4e79a7" stroke-width="0.18"><text transform="translate(934.94,454.90) scale(0.963,1.000)">S</text><text transform="translate(942.23,454.90) scale(1.040,1.000)">e</text><text transform="translate(948.53,454.90) scale(1.090,1.000)">p</text><text transform="translate(955.95,454.90) scale(1.072,1.000)">-</text><text transform="translate(960.81,454.90) scale(1.067,0.810)">2</text><text transform="translate(968.08,454.90) scale(1.172,0.810)">0</text></g>
<g aria-label="50%" font-size="13.62" fill="#4e79a7" stroke="#4e79a7" stroke-width="0.18"><text transform="translate(941.82,471.97) scale(1.008,1.050)">5</text><text transform="translate(948.68,469.70) scale(1.172,0.810)">0</text><text transform="translate(956.66,469.70) scale(0.936,1.000)">%</text></g>
<g aria-label="Oct-20" font-size="13.62" fill="#4e79a7" stroke="#4e79a7" stroke-width="0.18"><text transform="translate(938.16,598.75) scale(0.983,1.000)">O</text><text transform="translate(947.83,598.75) scale(0.976,1.000)">c</text><text transform="translate(953.73,598.75) scale(1.188,1.000)">t</text><text transform="translate(958.23,598.75) scale(1.072,1.000)">-</text><text transform="translate(963.09,598.75) scale(1.067,0.810)">2</text><text transform="translate(970.36,598.75) scale(1.172,0.810)">0</text></g>
<g aria-label="30%" font-size="13.62" fill="#4e79a7" stroke="#4e79a7" stroke-width="0.18"><text transform="translate(944.72,615.48) scale(1.052,1.050)">3</text><text transform="translate(951.88,613.20) scale(1.172,0.810)">0</text><text transform="translate(959.86,613.20) scale(0.936,1.000)">%</text></g>
<g aria-label="May-21" font-size="13.62" fill="#4e79a7" stroke="#4e79a7" stroke-width="0.18"><text transform="translate(924.93,763.90) scale(0.996,1.000)">M</text><text transform="translate(937.00,763.90) scale(1.083,1.000)">a</text><text transform="translate(943.55,763.90) scale(0.941,1.000)">y</text><text transform="translate(949.96,763.90) scale(1.072,1.000)">-</text><text transform="translate(954.82,763.90) scale(1.067,0.810)">2</text><text transform="translate(962.09,763.90) scale(0.819,0.810)">1</text></g>
<g aria-label="10%" font-size="13.62" fill="#4e79a7" stroke="#4e79a7" stroke-width="0.18"><text transform="translate(934.16,778.60) scale(0.819,0.810)">1</text><text transform="translate(939.74,778.60) scale(1.172,0.810)">0</text><text transform="translate(947.72,778.60) scale(0.936,1.000)">%</text></g>
<g aria-label="Feb-22" font-size="13.62" fill="#4e79a7" stroke="#4e79a7" stroke-width="0.18"><text transform="translate(1014.04,727.50) scale(1.030,1.000)">F</text><text transform="translate(1021.84,727.50) scale(1.040,1.000)">e</text><text transform="translate(1028.13,727.50) scale(1.069,1.000)">b</text><text transform="translate(1035.41,727.50) scale(1.072,1.000)">-</text><text transform="translate(1040.27,727.50) scale(1.067,0.810)">2</text><text transform="translate(1047.54,727.50) scale(1.067,0.810)">2</text></g>
<g aria-label="15%" font-size="13.62" fill="#4e79a7" stroke="#4e79a7" stroke-width="0.18"><text transform="translate(1021.97,742.30) scale(0.819,0.810)">1</text><text transform="translate(1027.55,744.57) scale(1.008,1.050)">5</text><text transform="translate(1034.41,742.30) scale(0.936,1.000)">%</text></g>
<g aria-label="Sep-22" font-size="13.62" fill="#4e79a7" stroke="#4e79a7" stroke-width="0.18"><text transform="translate(1050.15,478.90) scale(0.963,1.000)">S</text><text transform="translate(1057.44,478.90) scale(1.040,1.000)">e</text><text transform="translate(1063.73,478.90) scale(1.090,1.000)">p</text><text transform="translate(1071.16,478.90) scale(1.072,1.000)">-</text><text transform="translate(1076.02,478.90) scale(1.067,0.810)">2</text><text transform="translate(1083.28,478.90) scale(1.067,0.810)">2</text></g>
<g aria-label="50%" font-size="13.62" fill="#4e79a7" stroke="#4e79a7" stroke-width="0.18"><text transform="translate(1056.97,495.88) scale(1.008,1.050)">5</text><text transform="translate(1063.83,493.60) scale(1.172,0.810)">0</text><text transform="translate(1071.81,493.60) scale(0.936,1.000)">%</text></g>
<g aria-label="Jun-22" font-size="13.62" fill="#4e79a7" stroke="#4e79a7" stroke-width="0.18"><text transform="translate(1037.90,580.60) scale(1.271,1.000)">J</text><text transform="translate(1044.63,580.60) scale(1.099,1.000)">u</text><text transform="translate(1052.12,580.60) scale(1.128,1.000)">n</text><text transform="translate(1059.80,580.60) scale(1.072,1.000)">-</text><text transform="translate(1064.67,580.60) scale(1.067,0.810)">2</text><text transform="translate(1071.93,580.60) scale(1.067,0.810)">2</text></g>
<g aria-label="33%" font-size="13.62" fill="#4e79a7" stroke="#4e79a7" stroke-width="0.18"><text transform="translate(1045.78,597.67) scale(1.052,1.050)">3</text><text transform="translate(1052.94,597.67) scale(1.052,1.050)">3</text><text transform="translate(1060.10,595.40) scale(0.936,1.000)">%</text></g>
<g aria-label="Dec-22" font-size="13.62" fill="#4e79a7" stroke="#4e79a7" stroke-width="0.18"><text transform="translate(1024.23,334.00) scale(0.991,1.000)">D</text><text transform="translate(1033.98,334.00) scale(1.040,1.000)">e</text><text transform="translate(1040.27,334.00) scale(0.976,1.000)">c</text><text transform="translate(1046.17,334.00) scale(1.072,1.000)">-</text><text transform="translate(1051.04,334.00) scale(1.067,0.810)">2</text><text transform="translate(1058.30,334.00) scale(1.067,0.810)">2</text></g>
<g aria-label="65%" font-size="13.62" fill="#4e79a7" stroke="#4e79a7" stroke-width="0.18"><text transform="translate(1031.95,348.60) scale(1.080,1.020)">6</text><text transform="translate(1039.31,350.88) scale(1.008,1.050)">5</text><text transform="translate(1046.18,348.60) scale(0.936,1.000)">%</text></g>
<g aria-label="Jun-23" font-size="13.62" fill="#4e79a7" stroke="#4e79a7" stroke-width="0.18"><text transform="translate(1095.85,334.00) scale(1.271,1.000)">J</text><text transform="translate(1102.59,334.00) scale(1.099,1.000)">u</text><text transform="translate(1110.07,334.00) scale(1.128,1.000)">n</text><text transform="translate(1117.76,334.00) scale(1.072,1.000)">-</text><text transform="translate(1122.62,334.00) scale(1.067,0.810)">2</text><text transform="translate(1129.89,336.27) scale(1.052,1.050)">3</text></g>
<g aria-label="65%" font-size="13.62" fill="#4e79a7" stroke="#4e79a7" stroke-width="0.18"><text transform="translate(1103.93,348.60) scale(1.080,1.020)">6</text><text transform="translate(1111.29,350.88) scale(1.008,1.050)">5</text><text transform="translate(1118.15,348.60) scale(0.936,1.000)">%</text></g>
<g aria-label="Dec-23" font-size="13.62" fill="#4e79a7" stroke="#4e79a7" stroke-width="0.18"><text transform="translate(1126.18,440.60) scale(0.991,1.000)">D</text><text transform="translate(1135.93,440.60) scale(1.040,1.000)">e</text><text transform="translate(1142.22,440.60) scale(0.976,1.000)">c</text><text transform="translate(1148.13,440.60) scale(1.072,1.000)">-</text><text transform="translate(1152.99,440.60) scale(1.067,0.810)">2</text><text transform="translate(1160.26,442.88) scale(1.052,1.050)">3</text></g>
<g aria-label="50%" font-size="13.62" fill="#4e79a7" stroke="#4e79a7" stroke-width="0.18"><text transform="translate(1132.92,457.57) scale(1.008,1.050)">5</text><text transform="translate(1139.78,455.30) scale(1.172,0.810)">0</text><text transform="translate(1147.76,455.30) scale(0.936,1.000)">%</text></g>
<g aria-label="Feb-24" font-size="13.62" fill="#4e79a7" stroke="#4e79a7" stroke-width="0.18"><text transform="translate(1116.05,549.75) scale(1.030,1.000)">F</text><text transform="translate(1123.85,549.75) scale(1.040,1.000)">e</text><text transform="translate(1130.14,549.75) scale(1.069,1.000)">b</text><text transform="translate(1137.42,549.75) scale(1.072,1.000)">-</text><text transform="translate(1142.29,549.75) scale(1.067,0.810)">2</text><text transform="translate(1149.55,552.02) scale(1.078,1.050)">4</text></g>
<g aria-label="40%" font-size="13.62" fill="#4e79a7" stroke="#4e79a7" stroke-width="0.18"><text transform="translate(1122.93,566.67) scale(1.078,1.050)">4</text><text transform="translate(1130.27,564.40) scale(1.172,0.810)">0</text><text transform="translate(1138.25,564.40) scale(0.936,1.000)">%</text></g>
<g aria-label="Source: Bloomberg" font-size="12.58" fill="#444444" stroke="#444444" stroke-width="0.18"><text transform="translate(15.00,877.00) scale(0.963,1.000)">S</text><text transform="translate(21.73,877.00) scale(1.029,1.000)">o</text><text transform="translate(28.20,877.00) scale(1.099,1.000)">u</text><text transform="translate(35.11,877.00) scale(1.175,1.000)">r</text><text transform="translate(40.03,877.00) scale(0.976,1.000)">c</text><text transform="translate(45.48,877.00) scale(1.040,1.000)">e</text><text transform="translate(51.29,877.00) scale(1.074,1.000)">:</text><text transform="translate(57.94,877.00) scale(0.936,1.000)">B</text><text transform="translate(65.78,877.00) scale(0.985,1.000)">l</text><text transform="translate(69.23,877.00) scale(1.029,1.000)">o</text><text transform="translate(75.70,877.00) scale(1.029,1.000)">o</text><text transform="translate(82.16,877.00) scale(1.079,1.000)">m</text><text transform="translate(92.72,877.00) scale(1.069,1.000)">b</text><text transform="translate(99.44,877.00) scale(1.040,1.000)">e</text><text transform="translate(105.25,877.00) scale(1.175,1.000)">r</text><text transform="translate(110.17,877.00) scale(0.973,1.000)">g</text></g>
<g aria-label="© 2024 Bianco Research, L.L.C. All Rights Reserved" font-size="12.58" fill="#444444" stroke="#444444" stroke-width="0.18"><text transform="translate(907.57,869.00) scale(1.183,1.000)">©</text><text transform="translate(921.77,869.00) scale(1.067,0.810)">2</text><text transform="translate(928.48,869.00) scale(1.172,0.810)">0</text><text transform="translate(935.84,869.00) scale(1.067,0.810)">2</text><text transform="translate(942.55,871.10) scale(1.078,1.050)">4</text><text transform="translate(952.22,869.00) scale(0.936,1.000)">B</text><text transform="translate(960.07,869.00) scale(1.006,1.000)">i</text><text transform="translate(963.59,869.00) scale(1.083,1.000)">a</text><text transform="translate(969.64,869.00) scale(1.128,1.000)">n</text><text transform="translate(976.73,869.00) scale(0.976,1.000)">c</text><text transform="translate(982.18,869.00) scale(1.029,1.000)">o</text><text transform="translate(991.54,869.00) scale(1.004,1.000)">R</text><text transform="translate(999.96,869.00) scale(1.040,1.000)">e</text><text transform="translate(1005.77,869.00) scale(1.060,1.000)">s</text><text transform="translate(1010.95,869.00) scale(1.040,1.000)">e</text><text transform="translate(1016.76,869.00) scale(1.083,1.000)">a</text><text transform="translate(1022.81,869.00) scale(1.175,1.000)">r</text><text transform="translate(1027.73,869.00) scale(0.976,1.000)">c</text><text transform="translate(1033.18,869.00) scale(1.111,1.000)">h</text><text transform="translate(1040.16,869.00) scale(1.031,1.000)">,</text><text transform="translate(1046.29,869.00) scale(0.942,1.000)">L</text><text transform="translate(1053.53,869.00) scale(1.031,1.000)">.</text><text transform="translate(1056.77,869.00) scale(0.942,1.000)">L</text><text transform="translate(1064.00,869.00) scale(1.031,1.000)">.</text><text transform="translate(1067.24,869.00) scale(0.918,1.000)">C</text><text transform="translate(1074.95,869.00) scale(1.031,1.000)">.</text><text transform="translate(1081.08,869.00) scale(0.887,1.000)">A</text><text transform="translate(1089.13,869.00) scale(0.985,1.000)">l</text><text transform="translate(1092.58,869.00) scale(0.985,1.000)">l</text><text transform="translate(1098.91,869.00) scale(1.004,1.000)">R</text><text transform="translate(1107.34,869.00) scale(1.006,1.000)">i</text><text transform="translate(1110.85,869.00) scale(0.973,1.000)">g</text><text transform="translate(1116.97,869.00) scale(1.111,1.000)">h</text><text transform="translate(1123.96,869.00) scale(1.188,1.000)">t</text><text transform="translate(1128.11,869.00) scale(1.060,1.000)">s</text><text transform="translate(1136.18,869.00) scale(1.004,1.000)">R</text><text transform="translate(1144.61,869.00) scale(1.040,1.000)">e</text><text transform="translate(1150.42,869.00) scale(1.060,1.000)">s</text><text transform="translate(1155.60,869.00) scale(1.040,1.000)">e</text><text transform="translate(1161.41,869.00) scale(1.175,1.000)">r</text><text transform="translate(1166.33,869.00) scale(0.948,1.000)">v</text><text transform="translate(1172.29,869.00) scale(1.040,1.000)">e</text><text transform="translate(1178.10,869.00) scale(1.097,1.000)">d</text></g>
<g aria-label="biancoresearch.com link" font-size="12.58" fill="#4e8fa8" stroke="#4e8fa8" stroke-width="0.18"><text transform="translate(1001.10,884.00) scale(1.111,1.000)">h</text><text transform="translate(1008.08,884.00) scale(1.188,1.000)">t</text><text transform="translate(1012.24,884.00) scale(1.188,1.000)">t</text><text transform="translate(1016.39,884.00) scale(1.090,1.000)">p</text><text transform="translate(1023.24,884.00) scale(1.060,1.000)">s</text><text transform="translate(1028.42,884.00) scale(1.074,1.000)">:</text><text transform="translate(1032.18,884.00) scale(1.610,1.000)">/</text><text transform="translate(1037.81,884.00) scale(1.610,1.000)">/</text><text transform="translate(1043.44,884.00) scale(0.975,1.000)">w</text><text transform="translate(1052.29,884.00) scale(0.975,1.000)">w</text><text transform="translate(1061.15,884.00) scale(0.975,1.000)">w</text><text transform="translate(1070.00,884.00) scale(1.031,1.000)">.</text><text transform="translate(1073.24,884.00) scale(1.069,1.000)">b</text><text transform="translate(1079.96,884.00) scale(1.006,1.000)">i</text><text transform="translate(1083.48,884.00) scale(1.083,1.000)">a</text><text transform="translate(1089.53,884.00) scale(1.128,1.000)">n</text><text transform="translate(1096.62,884.00) scale(0.976,1.000)">c</text><text transform="translate(1102.07,884.00) scale(1.029,1.000)">o</text><text transform="translate(1108.54,884.00) scale(1.175,1.000)">r</text><text transform="translate(1113.46,884.00) scale(1.040,1.000)">e</text><text transform="translate(1119.26,884.00) scale(1.060,1.000)">s</text><text transform="translate(1124.45,884.00) scale(1.040,1.000)">e</text><text transform="translate(1130.26,884.00) scale(1.083,1.000)">a</text><text transform="translate(1136.30,884.00) scale(1.175,1.000)">r</text><text transform="translate(1141.22,884.00) scale(0.976,1.000)">c</text><text transform="translate(1146.67,884.00) scale(1.111,1.000)">h</text><text transform="translate(1153.66,884.00) scale(1.031,1.000)">.</text><text transform="translate(1156.90,884.00) scale(0.976,1.000)">c</text><text transform="translate(1162.34,884.00) scale(1.029,1.000)">o</text><text transform="translate(1168.81,884.00) scale(1.079,1.000)">m</text><text transform="translate(1179.37,884.00) scale(1.610,1.000)">/</text></g>
<line x1="1001.5" x2="1185" y1="885.5" y2="885.5" stroke="#4e8fa8" stroke-width="1"/>
</svg>
</body></html>
